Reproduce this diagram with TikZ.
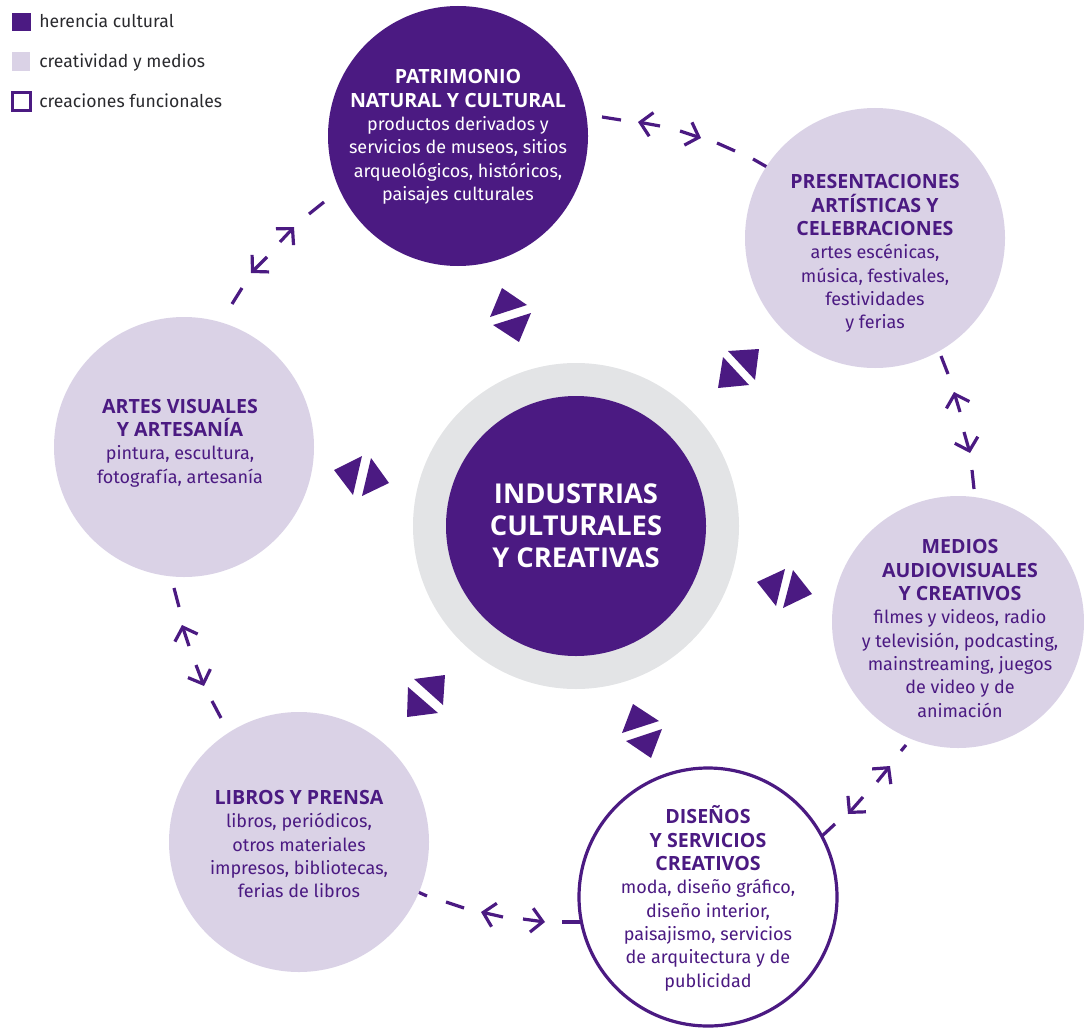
\documentclass[tikz,border=0pt]{standalone}
\usepackage{fontspec}
\setmainfont{Fira Sans}
\newfontfamily\headfont{Open Sans}[BoldFont={Open Sans Bold}]
\usetikzlibrary{arrows.meta}
\definecolor{purp}{HTML}{4B1A82}
\definecolor{lav}{HTML}{DAD2E6}
\definecolor{ringgrey}{HTML}{E3E4E6}
\definecolor{legtext}{HTML}{2A2A2E}
\tikzset{
  disc/.style={circle,inner sep=0pt,minimum size=#1*1.5pt},
  heritage/.style={disc=#1,fill=purp},
  media/.style={disc=#1,fill=lav},
  func/.style={disc=#1,fill=white,draw=purp,line width=2.4pt},
  body/.style={align=center,inner sep=0pt,font=\fontsize{13.5}{17.5}\selectfont},
  bodypurp/.style={body,text=purp},
  bodywhite/.style={body,text=white},
  legend/.style={anchor=base west,inner sep=0pt,text=legtext,font=\fontsize{13.2}{15}\selectfont},
  dashseg/.style={draw=purp,line width=2.4pt},
  arrowseg/.style={dashseg,-{Straight Barb[length=8.5pt,width=18pt,line width=2.4pt]}},
  tri/.style={fill=purp},
}
\newcommand{\hd}[1]{{\fontsize{14.7}{17.5}\selectfont\headfont\bfseries #1}}
\begin{document}
\begin{tikzpicture}[x=.75pt,y=-.75pt]
\useasboundingbox (0,0) rectangle (1084,1027);
% connector end points
\coordinate (a1) at (602,117); \coordinate (a2) at (621,120);
\coordinate (a3) at (660,126); \coordinate (a4) at (638,122);
\coordinate (a5) at (680,131); \coordinate (a6) at (701,138);
\coordinate (a7) at (717,143); \coordinate (a8) at (735,151);
\coordinate (a9) at (753,159); \coordinate (a10) at (767,167);
\coordinate (b1) at (941,356); \coordinate (b2) at (948,374);
\coordinate (b3) at (960,412); \coordinate (b4) at (954,392);
\coordinate (b5) at (964,432); \coordinate (b6) at (970,453);
\coordinate (b7) at (972,470); \coordinate (b8) at (974,489);
\coordinate (c1) at (906,745); \coordinate (c2) at (901,751);
\coordinate (c3) at (877,782); \coordinate (c4) at (890,766);
\coordinate (c5) at (863,797); \coordinate (c6) at (848,814);
\coordinate (c7) at (835,824); \coordinate (c8) at (822,836);
\coordinate (d1) at (580,922); \coordinate (d2) at (562,922);
\coordinate (d3) at (523,919); \coordinate (d4) at (545,922);
\coordinate (d5) at (503,917); \coordinate (d6) at (481,912);
\coordinate (d7) at (464,908); \coordinate (d8) at (446,902);
\coordinate (d9) at (427,896); \coordinate (d10) at (418,892);
\coordinate (e1) at (221,718); \coordinate (e2) at (212,701);
\coordinate (e3) at (196,665); \coordinate (e4) at (204,686);
\coordinate (e5) at (189,646); \coordinate (e6) at (182,625);
\coordinate (e7) at (179,607); \coordinate (e8) at (174,588);
\coordinate (f1) at (232,304); \coordinate (f2) at (242,288);
\coordinate (f3) at (267,257); \coordinate (f4) at (251,273);
\coordinate (f5) at (280,242); \coordinate (f6) at (294,227);
\coordinate (f7) at (309,214); \coordinate (f8) at (324,202);
% connectors
\foreach \p/\q in {a1/a2,a7/a8,a9/a10,b1/b2,b7/b8,c1/c2,c7/c8,d1/d2,d7/d8,d9/d10,e1/e2,e7/e8,f1/f2,f7/f8}
  \draw[dashseg] (\p) -- (\q);
\foreach \p/\q in {a3/a4,a5/a6,b3/b4,b5/b6,c3/c4,c5/c6,d3/d4,d5/d6,e3/e4,e5/e6,f3/f4,f5/f6}
  \draw[arrowseg] (\p) -- (\q);
% legend
\fill[purp] (12,13) rectangle (31,31);
\fill[lav] (12,52) rectangle (30,71);
\draw[purp,line width=2pt] (12.5,92.5) rectangle (30.5,110.5);
\node[legend] (l1) at (39,28) {herencia cultural};
\node[legend] (l2) at (39,67.5) {creatividad y medios};
\node[legend] (l3) at (39,107.5) {creaciones funcionales};
% circles
\node[heritage=130] (pat) at (458,136) {};
\node[media=130] (pre) at (875,238) {};
\node[media=126] (med) at (958,622) {};
\node[func=129] (dis) at (708,897) {};
\node[media=130] (lib) at (299,842) {};
\node[media=130] (art) at (184,447) {};
\node[disc=163,fill=ringgrey] (ring) at (576,526) {};
\node[heritage=130] (ind) at (576,526) {};
% texts
\node[bodywhite] (patT) at (458,137) {\hd{PATRIMONIO}\\\hd{NATURAL Y CULTURAL}\\productos derivados y\\servicios de museos, sitios\\arqueológicos, históricos,\\paisajes culturales};
\node[bodypurp] (preT) at (875,253.5) {\hd{PRESENTACIONES}\\\hd{ARTÍSTICAS Y}\\\hd{CELEBRACIONES}\\artes escénicas,\\música, festivales,\\festividades\\y ferias};
\node[bodypurp] (medT) at (960,628.5) {\hd{MEDIOS}\\\hd{AUDIOVISUALES}\\\hd{Y CREATIVOS}\\filmes y videos, radio\\y televisión, podcasting,\\mainstreaming, juegos\\de video y de\\animación};
\node[bodypurp] (disT) at (708,898.5) {\hd{DISEÑOS}\\\hd{Y SERVICIOS}\\\hd{CREATIVOS}\\moda, diseño gráfico,\\diseño interior,\\paisajismo, servicios\\de arquitectura y de\\publicidad};
\node[bodypurp] (libT) at (299,844) {\hd{LIBROS Y PRENSA}\\libros, periódicos,\\otros materiales\\impresos, bibliotecas,\\ferias de libros};
\node[bodypurp] (artT) at (180,443) {\hd{ARTES VISUALES}\\\hd{Y ARTESANÍA}\\pintura, escultura,\\fotografía, artesanía};
\node[align=center,inner sep=0pt,text=white,font=\fontsize{20.5}{24}\selectfont\headfont\bfseries] (indT) at (576,526) {INDUSTRIAS\\CULTURALES\\Y CREATIVAS};
% triangle pairs
\fill[tri] (502,288) -- (527,305) -- (490,317) -- cycle;
\fill[tri] (531,313) -- (493,325) -- (519,342) -- cycle;
\fill[tri] (728,351) -- (759,349) -- (755,380) -- cycle;
\fill[tri] (723,357) -- (749,385) -- (718,388) -- cycle;
\fill[tri] (334,470) -- (362,456) -- (353,495) -- cycle;
\fill[tri] (371,458) -- (389,483) -- (362,496) -- cycle;
\fill[tri] (757,582) -- (785,569) -- (776,606) -- cycle;
\fill[tri] (793,570) -- (812,594) -- (783,608) -- cycle;
\fill[tri] (633,704) -- (659,721) -- (622,733) -- cycle;
\fill[tri] (662,729) -- (626,741) -- (651,758) -- cycle;
\fill[tri] (414,679) -- (445,675) -- (443,705) -- cycle;
\fill[tri] (408,687) -- (438,713) -- (407,717) -- cycle;
\end{tikzpicture}
\end{document}
